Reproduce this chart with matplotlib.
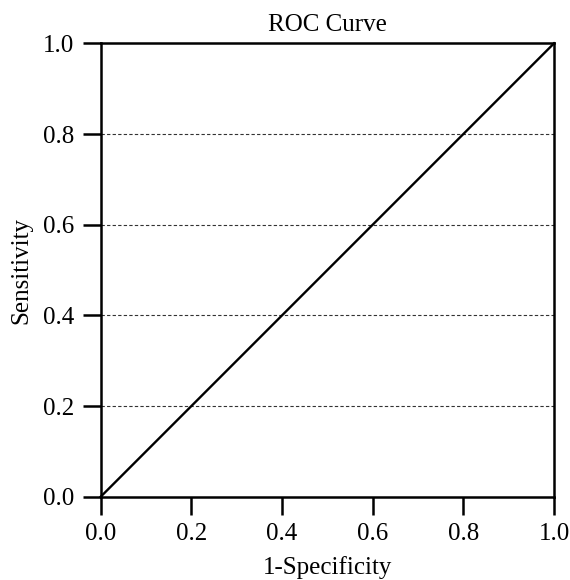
import matplotlib
matplotlib.use("Agg")
import matplotlib.pyplot as plt

plt.rcParams['font.family'] = ['Liberation Serif', 'DejaVu Serif']
plt.rcParams['font.size'] = 18

# ROC points (1-specificity, sensitivity)
fpr = [0.0, 0.333, 0.714, 1.0]
tpr = [0.0, 0.333, 0.714, 1.0]

ticks = [0.0, 0.2, 0.4, 0.6, 0.8, 1.0]
tick_labels = ["0.0", "0.2", "0.4", "0.6", "0.8", "1.0"]
grid_levels = [0.2, 0.4, 0.6, 0.8]

fig = plt.figure(figsize=(5.7, 5.8), dpi=100)
ax = fig.add_axes([0.1767, 0.1436, 0.7953, 0.7817])

for g in grid_levels:
    ax.axhline(g, color='#333333', lw=0.8, ls=(0, (3, 2)), zorder=1)

ax.plot(fpr, tpr, color='black', lw=1.7, zorder=3, clip_on=False)

ax.set_xlim(0, 1)
ax.set_ylim(0, 1)
ax.set_xticks(ticks)
ax.set_xticklabels(tick_labels)
ax.set_yticks(ticks)
ax.set_yticklabels(tick_labels)
ax.tick_params(direction='out', length=13, width=1.8, pad=6, labelsize=18)

for sp in ax.spines.values():
    sp.set_linewidth(1.8)
    sp.set_color('black')

ax.set_title("ROC Curve", fontsize=18, pad=9)
ax.set_xlabel("1-Specificity", fontsize=18, labelpad=8)
ax.set_ylabel("Sensitivity", fontsize=18, labelpad=8)

fig.savefig("out.png", dpi=100)
